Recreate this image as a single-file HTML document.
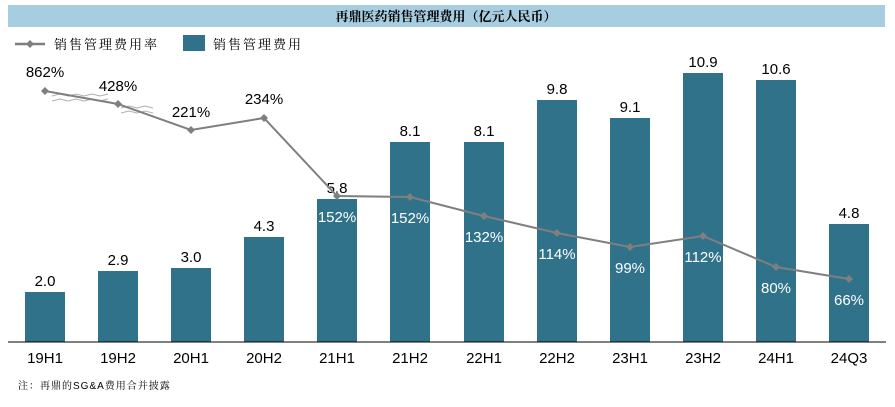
<!DOCTYPE html>
<html><head><meta charset="utf-8"><style>
body{margin:0;background:#fff;}
svg text{font-family:"Liberation Sans","Noto Sans CJK SC",sans-serif;}
</style></head><body>
<svg width="895" height="402" viewBox="0 0 895 402" xmlns="http://www.w3.org/2000/svg">
<rect x="8" y="5" width="877" height="22" fill="#a6cee0"/>
<text x="446" y="21" text-anchor="middle" font-size="13" font-weight="bold" style="font-family:'Noto Serif CJK SC',serif">再鼎医药销售管理费用（亿元人民币）</text>
<line x1="15" y1="44" x2="45" y2="44" stroke="#7f7f7f" stroke-width="2.5"/>
<path d="M30 40 L34 44 L30 48 L26 44Z" fill="#7f7f7f"/>
<text x="54" y="49" font-size="13" style="font-family:'Noto Serif CJK SC',serif" letter-spacing="2">销售管理费用率</text>
<rect x="183" y="35" width="22" height="16" fill="#31728b"/>
<text x="213" y="49" font-size="13" style="font-family:'Noto Serif CJK SC',serif" letter-spacing="2">销售管理费用</text>
<g fill="#31728b">
<rect x="25" y="292" width="40" height="50"/>
<rect x="98" y="271" width="40" height="71"/>
<rect x="171" y="268" width="40" height="74"/>
<rect x="244" y="237" width="40" height="105"/>
<rect x="317" y="199" width="40" height="143"/>
<rect x="390" y="142" width="40" height="200"/>
<rect x="464" y="142" width="40" height="200"/>
<rect x="537" y="100" width="40" height="242"/>
<rect x="610" y="118" width="40" height="224"/>
<rect x="683" y="73" width="40" height="269"/>
<rect x="756" y="80" width="40" height="262"/>
<rect x="829" y="224" width="40" height="118"/>
</g>
<line x1="8" y1="342" x2="886" y2="342" stroke="#000" stroke-width="1"/>
<g font-size="15" text-anchor="middle" fill="#000">
<text x="45" y="286">2.0</text><text x="118" y="265">2.9</text><text x="191" y="262">3.0</text>
<text x="264" y="231">4.3</text><text x="337" y="193">5.8</text><text x="410" y="136">8.1</text>
<text x="484" y="136">8.1</text><text x="557" y="94">9.8</text><text x="630" y="112">9.1</text>
<text x="703" y="67">10.9</text><text x="776" y="74">10.6</text><text x="849" y="218">4.8</text>
</g>
<g font-size="15" text-anchor="middle" fill="#000">
<text x="45" y="363">19H1</text><text x="118" y="363">19H2</text><text x="191" y="363">20H1</text>
<text x="264" y="363">20H2</text><text x="337" y="363">21H1</text><text x="410" y="363">21H2</text>
<text x="484" y="363">22H1</text><text x="557" y="363">22H2</text><text x="630" y="363">23H1</text>
<text x="703" y="363">23H2</text><text x="776" y="363">24H1</text><text x="849" y="363">24Q3</text>
</g>
<g stroke="#b0b0b0" fill="none" stroke-width="1">
<path d="M52 96 l8 -2 l8 2 l8 -2 l8 2 l8 -2 l8 2 l8 -2"/>
<path d="M52 101 l8 -2 l8 2 l8 -2 l8 2 l8 -2 l8 2 l8 -2"/>
<path d="M121 108 l8 -2 l8 2 l8 -2 l8 2"/>
<path d="M121 113 l8 -2 l8 2 l8 -2 l8 2"/>
</g>
<polyline points="45,91 118,104 191,130 264,118 337,196 410,197 484,216 557,233 630,247 703,236 776,267 849,279" fill="none" stroke="#7f7f7f" stroke-width="2"/>
<g fill="#7f7f7f">
<path d="M45 87l4 4l-4 4l-4-4z"/><path d="M118 100l4 4l-4 4l-4-4z"/><path d="M191 126l4 4l-4 4l-4-4z"/>
<path d="M264 114l4 4l-4 4l-4-4z"/><path d="M337 192l4 4l-4 4l-4-4z"/><path d="M410 193l4 4l-4 4l-4-4z"/>
<path d="M484 212l4 4l-4 4l-4-4z"/><path d="M557 229l4 4l-4 4l-4-4z"/><path d="M630 243l4 4l-4 4l-4-4z"/>
<path d="M703 232l4 4l-4 4l-4-4z"/><path d="M776 263l4 4l-4 4l-4-4z"/><path d="M849 275l4 4l-4 4l-4-4z"/>
</g>
<g font-size="15" text-anchor="middle" fill="#000">
<text x="45" y="77">862%</text><text x="118" y="91">428%</text><text x="191" y="117">221%</text><text x="264" y="104">234%</text>
</g>
<g font-size="15" text-anchor="middle" fill="#fff">
<text x="337" y="222">152%</text><text x="410" y="223">152%</text><text x="484" y="242">132%</text>
<text x="557" y="259">114%</text><text x="630" y="273">99%</text><text x="703" y="262">112%</text>
<text x="776" y="293">80%</text><text x="849" y="305">66%</text>
</g>
<text x="18" y="389" font-size="10" style="font-family:'Liberation Sans','Noto Serif CJK SC',sans-serif" letter-spacing="1">注：再鼎的SG&amp;A费用合并披露</text>
</svg>
</body></html>
